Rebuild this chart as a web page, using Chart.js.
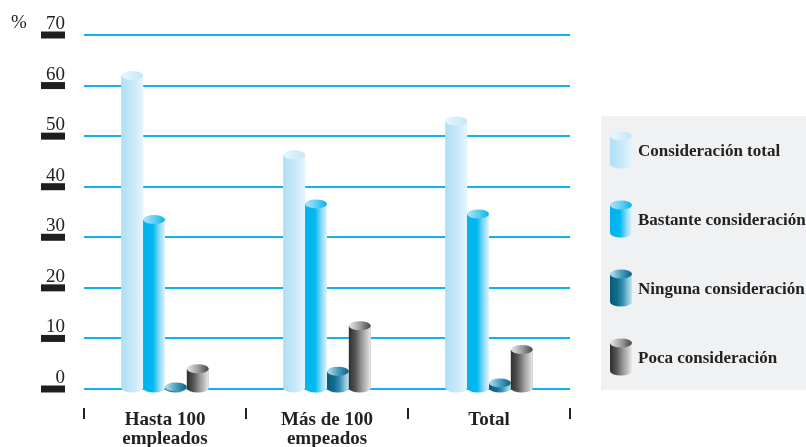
<!DOCTYPE html>
<html lang="es">
<head>
<meta charset="utf-8">
<title>Consideración por tamaño de empresa</title>
<script src="https://cdn.jsdelivr.net/npm/chart.js@4/dist/chart.umd.min.js"></script>
<style>
  html, body { margin: 0; padding: 0; background: #fff; }
  #wrap { width: 806px; height: 447px; position: relative; }
</style>
</head>
<body>
<div id="wrap"><canvas id="consideracionChart"></canvas></div>
<script>
const categorias = [["Hasta 100", "empleados"], ["Más de 100", "empeados"], "Total"];
const series = ["Consideración total", "Bastante consideración", "Ninguna consideración", "Poca consideración"];
const consideracionTotal = [62, 46.3, 53];
const bastanteConsideracion = [33.5, 36.6, 34.6];
const ningunaConsideracion = [0.4, 3.5, 1.2];
const pocaConsideracion = [4, 12.5, 7.8];
const yTicks = [0, 10, 20, 30, 40, 50, 60, 70];

const SERIF = "'Liberation Serif', 'DejaVu Serif', serif";

// shading of each tube: side (left -> right) and top cap
const tubos = [
  {
    base: "#c6e9f9",
    cuerpo: [[0, "#b0dff5"], [0.5, "#c5e8f9"], [1, "#e4f5fd"]],
    tapa: [[0, "#e8f7fd"], [1, "#c2e7f8"]],
  },
  {
    base: "#00b8f0",
    cuerpo: [[0, "#00b3ee"], [0.45, "#00b9f0"], [0.6, "#45c8f3"], [0.75, "#8cdaf6"], [0.9, "#bfe9f9"], [1, "#e2f5fc"]],
    tapa: [[0, "#b3e5f8"], [0.55, "#5acdf3"], [1, "#00b5ee"]],
  },
  {
    base: "#1a7da3",
    cuerpo: [[0, "#0a5877"], [0.35, "#12708f"], [0.6, "#3c93b3"], [0.8, "#84c0d6"], [1, "#c6e4ef"]],
    tapa: [[0, "#c0e2ef"], [0.5, "#4b9fbf"], [1, "#0c6283"]],
  },
  {
    base: "#8a8a8a",
    cuerpo: [[0, "#2e2e2e"], [0.3, "#565656"], [0.6, "#9a9a9a"], [0.85, "#cacaca"], [1, "#ececec"]],
    tapa: [[0, "#e8e8e8"], [0.5, "#a0a0a0"], [1, "#474747"]],
  },
];

function gradiente(ctx, x0, x1, stops) {
  const g = ctx.createLinearGradient(x0, 0, x1, 0);
  stops.forEach(([o, c]) => g.addColorStop(o, c));
  return g;
}

function cilindro(ctx, x, top, bottom, rx, ry, tubo) {
  ctx.fillStyle = gradiente(ctx, x - rx, x + rx, tubo.cuerpo);
  ctx.fillRect(x - rx, top, rx * 2, bottom - top);
  ctx.beginPath();
  ctx.ellipse(x, bottom, rx, ry, 0, 0, Math.PI);
  ctx.fill();
  ctx.fillStyle = gradiente(ctx, x - rx, x + rx, tubo.tapa);
  ctx.beginPath();
  ctx.ellipse(x, top, rx, ry, 0, 0, Math.PI * 2);
  ctx.fill();
}

// paints every bar as a shaded cylinder on top of the plain rectangle
const cilindros = {
  id: "cilindros",
  afterDatasetsDraw(chart) {
    const ctx = chart.ctx;
    ctx.save();
    chart.data.datasets.forEach((ds, i) => {
      chart.getDatasetMeta(i).data.forEach((bar) => {
        const { x, y, base, width } = bar.getProps(["x", "y", "base", "width"], true);
        cilindro(ctx, x, y, base, width / 2, 4.5, tubos[i]);
      });
    });
    ctx.restore();
  },
};

// tick bars, % sign, category separators and the legend panel
const adornos = {
  id: "adornos",
  afterDraw(chart) {
    const ctx = chart.ctx;
    const yScale = chart.scales.y;
    const area = chart.chartArea;
    ctx.save();

    ctx.fillStyle = "#1e1e1e";
    yScale.ticks.forEach((t) => {
      const py = yScale.getPixelForValue(t.value);
      ctx.fillRect(41, py - 3.5, 24, 7);
    });

    ctx.font = `19px ${SERIF}`;
    ctx.textAlign = "left";
    ctx.textBaseline = "middle";
    ctx.fillStyle = "#222";
    ctx.fillText("%", 11, 23);

    const n = categorias.length;
    const paso = (area.right - area.left) / n;
    for (let i = 0; i <= n; i++) {
      const px = Math.round(area.left + paso * i);
      ctx.fillRect(px - 1, 408, 2, 11);
    }

    // legend
    const lx = area.right + 31;
    ctx.fillStyle = "#f0f1f3";
    ctx.fillRect(lx, 116, chart.width - lx, 274);
    ctx.font = `bold 17px ${SERIF}`;
    series.forEach((nombre, i) => {
      const cy = 150 + 69 * i;
      cilindro(ctx, lx + 20, cy - 14, cy + 14, 11, 4.5, tubos[i]);
      ctx.fillStyle = "#222";
      ctx.fillText(nombre, lx + 37, cy + 2);
    });
    ctx.restore();
  },
};

const valores = [consideracionTotal, bastanteConsideracion, ningunaConsideracion, pocaConsideracion];

new Chart(document.getElementById("consideracionChart"), {
  type: "bar",
  data: {
    labels: categorias,
    datasets: series.map((nombre, i) => ({
      label: nombre,
      data: valores[i],
      backgroundColor: tubos[i].base,
      borderWidth: 0,
      barPercentage: 1,
      categoryPercentage: 0.54,
    })),
  },
  options: {
    responsive: true,
    maintainAspectRatio: false,
    animation: false,
    layout: { padding: { top: 35, right: 236, left: 0, bottom: 0 } },
    plugins: {
      legend: { display: false },
      tooltip: { enabled: false },
    },
    scales: {
      x: {
        afterFit(scale) { scale.height = 58; },
        border: { display: false },
        grid: { display: false },
        ticks: {
          padding: 14,
          color: "#222",
          maxRotation: 0,
          autoSkip: false,
          font: { family: SERIF, size: 19, weight: "bold", lineHeight: 1.0 },
        },
      },
      y: {
        min: 0,
        max: 70,
        afterFit(scale) { scale.width = 84; },
        afterBuildTicks(scale) { scale.ticks = yTicks.map((v) => ({ value: v })); },
        border: { display: false },
        grid: { color: "#12b0ec", lineWidth: 2, drawTicks: false },
        ticks: {
          padding: 19,
          labelOffset: -11,
          color: "#222",
          font: { family: SERIF, size: 19 },
        },
      },
    },
  },
  plugins: [cilindros, adornos],
});
</script>
</body>
</html>
